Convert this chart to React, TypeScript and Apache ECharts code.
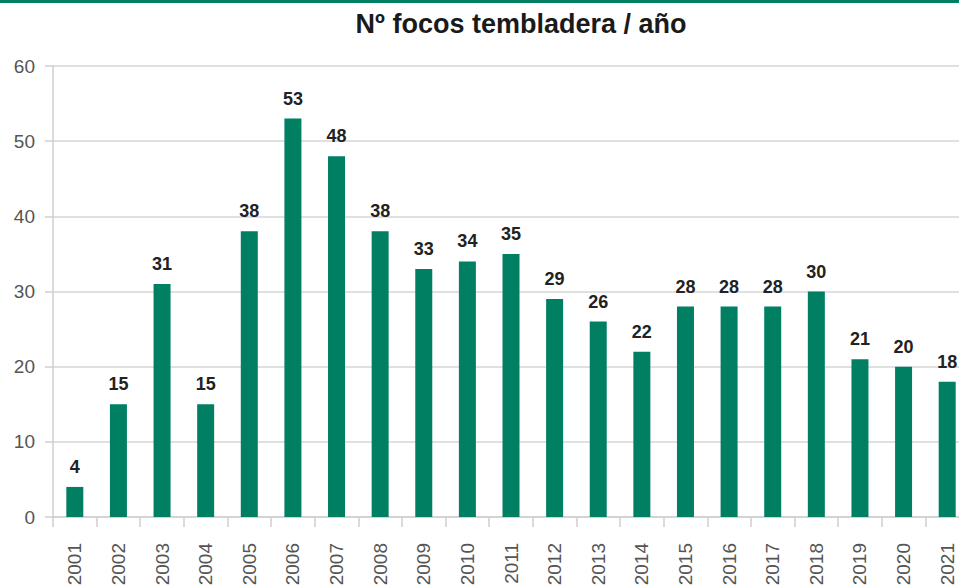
import React, { useEffect, useRef } from "react";
import * as echarts from "echarts";

const years = ["2001","2002","2003","2004","2005","2006","2007","2008","2009","2010","2011","2012","2013","2014","2015","2016","2017","2018","2019","2020","2021"];
const focos = [4, 15, 31, 15, 38, 53, 48, 38, 33, 34, 35, 29, 26, 22, 28, 28, 28, 30, 21, 20, 18];
const titleText = "Nº focos tembladera / año";

export default function App() {
  const ref = useRef<HTMLDivElement>(null);
  useEffect(() => {
    const chart = echarts.init(ref.current!, null, { renderer: "svg" });
    chart.setOption({
      animation: false,
      backgroundColor: "#ffffff",
      textStyle: { fontFamily: "Liberation Sans" },
      graphic: [
        { type: "rect", shape: { x: 0, y: 0, width: 959, height: 3 }, style: { fill: "#007F63" } },
        {
          type: "text",
          x: 521,
          y: 24,
          style: {
            text: titleText,
            fontSize: 27,
            fontWeight: "bold",
            fontFamily: "Liberation Sans",
            fill: "#1a1a1a",
            align: "center",
            verticalAlign: "middle",
          },
        },
      ],
      grid: { left: 53, right: -10, top: 66, bottom: 68, outerBoundsMode: "none", containLabel: false },
      xAxis: {
        type: "category",
        data: years,
        axisLine: { lineStyle: { color: "#cfcfcf", width: 1.5 } },
        axisTick: { show: true, length: 10, lineStyle: { color: "#cfcfcf", width: 1.5 } },
        axisLabel: { rotate: 90, fontSize: 19, color: "#555", margin: 26 },
      },
      yAxis: {
        type: "value",
        min: 0,
        max: 60,
        interval: 10,
        axisLine: { show: true, lineStyle: { color: "#cfcfcf", width: 1.5 } },
        axisTick: { show: true, length: 8, lineStyle: { color: "#cfcfcf", width: 1.5 } },
        axisLabel: { fontSize: 19, color: "#555", margin: 18 },
        splitLine: { lineStyle: { color: "#d6d6d6", width: 1.5 } },
      },
      series: [
        {
          type: "bar",
          data: focos,
          barWidth: 17,
          itemStyle: { color: "#007F63" },
          label: {
            show: true,
            position: "top",
            distance: 11,
            fontSize: 18,
            fontWeight: "bold",
            color: "#222",
          },
        },
      ],
    });
    return () => chart.dispose();
  }, []);
  return (
    <div style={{ position: "fixed", left: 0, top: 0, width: 959, height: 585, overflow: "hidden" }}>
      <div ref={ref} style={{ width: 959, height: 585 }} />
    </div>
  );
}
